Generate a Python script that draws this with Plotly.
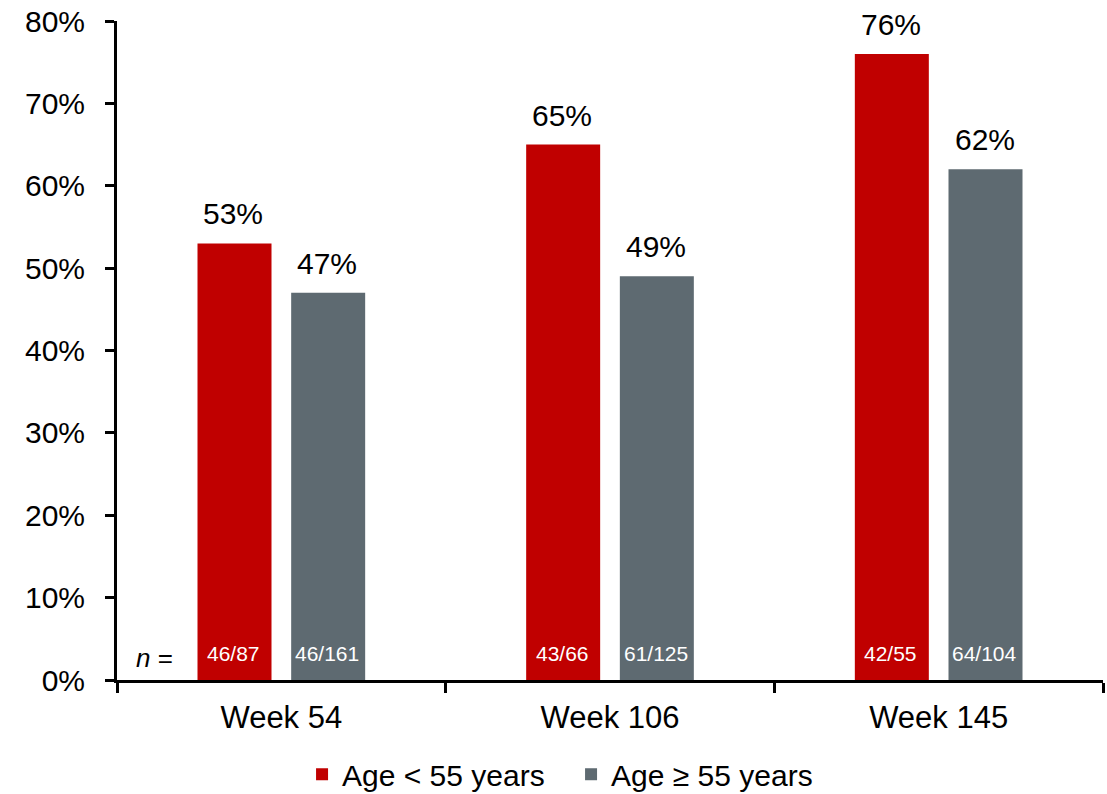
import plotly.graph_objects as go

categories = ["Week 54", "Week 106", "Week 145"]
series_names = ["Age < 55 years", "Age ≥ 55 years"]
young_pct = [53, 65, 76]
old_pct = [47, 49, 62]
young_n = ["46/87", "43/66", "42/55"]
old_n = ["46/161", "61/125", "64/104"]
y_ticks = [0, 10, 20, 30, 40, 50, 60, 70, 80]

RED = "#C00000"
GRAY = "#5E6A71"
FONT = "Liberation Sans, Arial, sans-serif"

fig = go.Figure()
fig.add_trace(go.Bar(x=categories, y=young_pct, name=series_names[0],
                     marker=dict(color=RED, line=dict(width=0))))
fig.add_trace(go.Bar(x=categories, y=old_pct, name=series_names[1],
                     marker=dict(color=GRAY, line=dict(width=0))))

annotations = []
shift = 47
for i, c in enumerate(categories):
    for vals, ns, dx in ((young_pct, young_n, -shift), (old_pct, old_n, shift)):
        annotations.append(dict(x=c, y=vals[i], xref="x", yref="y", xshift=dx - 1, yshift=11,
                                text=f"{vals[i]}%", showarrow=False, yanchor="bottom",
                                font=dict(size=30, color="black", family=FONT)))
        annotations.append(dict(x=c, y=0, xref="x", yref="y", xshift=dx - 1, yshift=13,
                                text=ns[i], showarrow=False, yanchor="bottom",
                                font=dict(size=21, color="white", family=FONT)))
annotations.append(dict(x=0.0385, y=0, xref="paper", yref="y", yshift=5,
                        text="<i>n</i> =", showarrow=False, yanchor="bottom", xanchor="center",
                        font=dict(size=26, color="black", family=FONT)))

fig.update_layout(
    width=1107, height=794,
    margin=dict(l=117, r=4, t=21, b=114, autoexpand=False),
    paper_bgcolor="white", plot_bgcolor="white",
    barmode="group", bargap=0.43, bargroupgap=0.21,
    font=dict(family=FONT, size=30, color="black"),
    showlegend=True,
    legend=dict(orientation="h", x=0.4605, xanchor="center", y=-0.143, yanchor="middle",
                font=dict(size=30, family=FONT), entrywidth=224, entrywidthmode="pixels",
                itemwidth=30, tracegroupgap=0),
    annotations=annotations,
)
fig.update_xaxes(type="category", tickson="boundaries", ticks="outside", ticklen=10,
                 tickwidth=3, tickcolor="black", showline=True, linecolor="black",
                 linewidth=3, showgrid=False, tickfont=dict(size=31, family=FONT),
                 ticklabelstandoff=8, range=[-0.5, 2.5])
fig.update_yaxes(range=[0, 80], tickvals=y_ticks, ticktext=[f"{v}%" for v in y_ticks],
                 ticks="outside", ticklen=9, tickwidth=3, tickcolor="black",
                 showline=True, linecolor="black", linewidth=3, showgrid=False,
                 zeroline=False, ticklabelstandoff=14, tickfont=dict(size=30, family=FONT))

fig.write_html("out.html")
